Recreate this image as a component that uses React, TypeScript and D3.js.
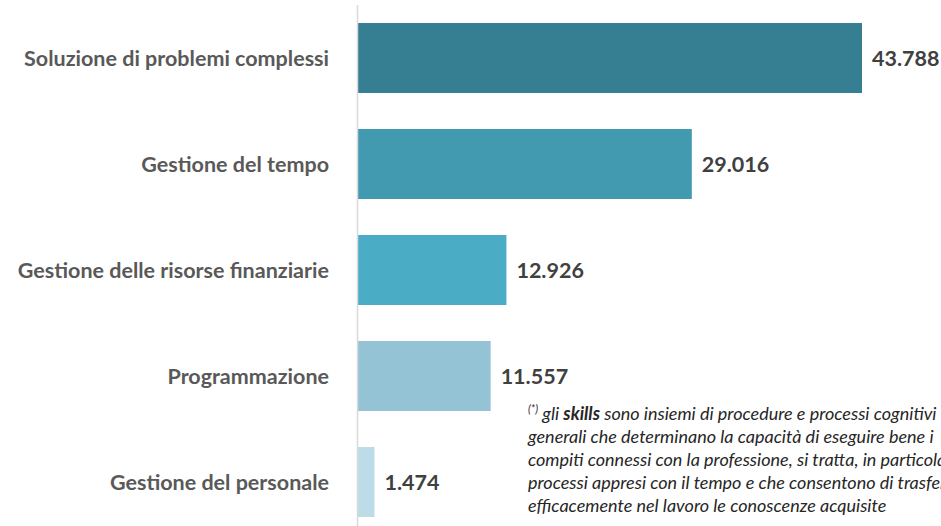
import React from "react";
import * as d3 from "d3";

const categories = [
  "Soluzione di problemi complessi",
  "Gestione del tempo",
  "Gestione delle risorse finanziarie",
  "Programmazione",
  "Gestione del personale",
];
const values = [43.788, 29.016, 12.926, 11.557, 1.474];
const valueLabels = ["43.788", "29.016", "12.926", "11.557", "1.474"];
const colors = ["#367f93", "#419aaf", "#4bacc6", "#93c3d5", "#bcdce7"];
const noteLines = [
  "generali che determinano la capacità di eseguire bene i",
  "compiti connessi con la professione, si tratta, in particolare, di",
  "processi appresi con il tempo e che consentono di trasferire",
  "efficacemente nel lavoro le conoscenze acquisite",
];

const W = 941;
const H = 526;
const FONT = "Lato, 'Open Sans', sans-serif";

export default function App() {
  const x0 = 357.5;
  const x = d3.scaleLinear().domain([0, 43.788]).range([x0, 862]);
  const y = d3
    .scaleBand<string>()
    .domain(categories)
    .range([5, 535])
    .paddingInner(0.34)
    .paddingOuter(0.17);

  return (
    <svg
      width={W}
      height={H}
      style={{ position: "absolute", left: 0, top: 0, background: "#fff" }}
    >
      {categories.map((c, i) => {
        const yy = y(c)!;
        const bh = y.bandwidth();
        return (
          <g key={c}>
            <rect x={x0} y={yy} width={x(values[i]) - x0} height={bh} fill={colors[i]} />
            <text
              x={329}
              y={yy + bh / 2}
              dy="0.35em"
              textAnchor="end"
              fontFamily={FONT}
              fontWeight={700}
              fontSize={21.5}
              fill="#595959"
            >
              {c}
            </text>
            <text
              x={x(values[i]) + 10}
              y={yy + bh / 2}
              dy="0.35em"
              fontFamily={FONT}
              fontWeight={700}
              fontSize={21.5}
              fill="#404040"
            >
              {valueLabels[i]}
            </text>
          </g>
        );
      })}
      <line x1={x0} x2={x0} y1={5} y2={H} stroke="#d9d9d9" strokeWidth={1.5} />
      <g fontFamily={FONT} fontStyle="italic" fontSize={18} fill="#262626">
        <text x={528} y={420}>
          <tspan fontSize={11} dy={-7}>(*)</tspan>
          <tspan dy={7}> gli </tspan>
          <tspan fontWeight={700}>skills</tspan>
          <tspan> sono insiemi di procedure e processi cognitivi</tspan>
        </text>
        {noteLines.map((l, i) => (
          <text key={i} x={528} y={443 + i * 23}>
            {l}
          </text>
        ))}
      </g>
    </svg>
  );
}
